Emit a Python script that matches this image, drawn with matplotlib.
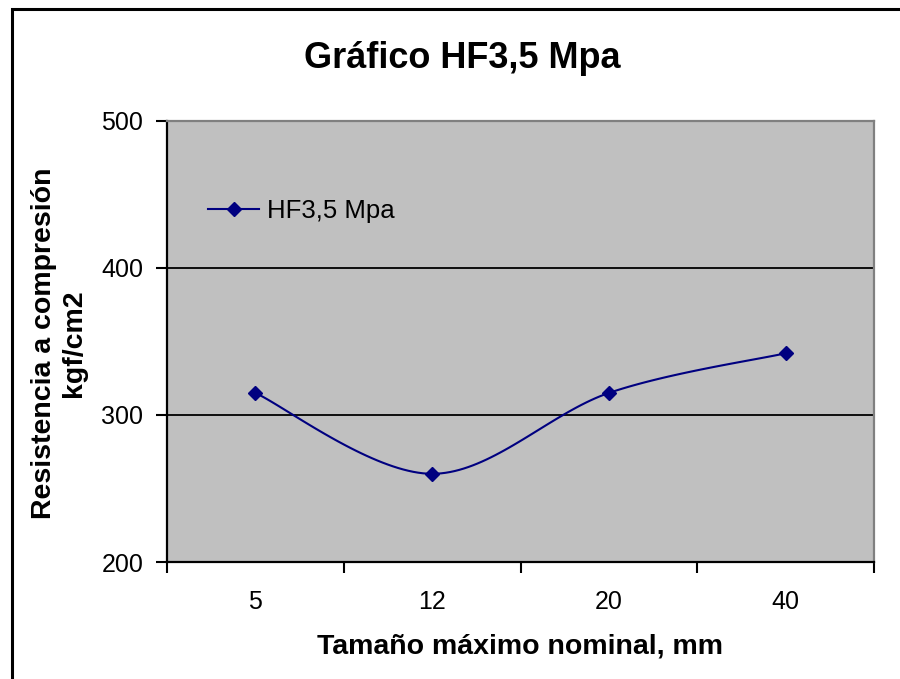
import numpy as np
import matplotlib
matplotlib.use("Agg")
import matplotlib.pyplot as plt
from matplotlib.patches import Rectangle

plt.rcParams["font.family"] = ["Liberation Sans", "DejaVu Sans"]

categories = ["5", "12", "20", "40"]
resistencia = [315, 260, 315, 342]
serie = "HF3,5 Mpa"
titulo = "Gráfico HF3,5 Mpa"
y_ticks = [200, 300, 400, 500]


def smooth_curve(xs, ys, n=40):
    # Catmull-Rom segments as cubic Bezier (same idea as spreadsheet "smoothed line")
    xs = np.asarray(xs, dtype=float)
    ys = np.asarray(ys, dtype=float)
    px, py = [], []
    m = len(xs)
    for i in range(m - 1):
        i0 = max(i - 1, 0)
        i3 = min(i + 2, m - 1)
        p0 = np.array([xs[i0], ys[i0]])
        p1 = np.array([xs[i], ys[i]])
        p2 = np.array([xs[i + 1], ys[i + 1]])
        p3 = np.array([xs[i3], ys[i3]])
        c1 = p1 + (p2 - p0) / 6.0
        c2 = p2 - (p3 - p1) / 6.0
        t = np.linspace(0, 1, n)[:, None]
        pts = ((1 - t) ** 3) * p1 + 3 * ((1 - t) ** 2) * t * c1 + 3 * (1 - t) * t ** 2 * c2 + t ** 3 * p2
        px.extend(pts[:, 0])
        py.extend(pts[:, 1])
    return np.array(px), np.array(py)


fig = plt.figure(figsize=(9, 6.79), dpi=100)
fig.patch.set_facecolor("white")

# chart frame (left and top edges visible, the rest runs off the canvas)
fig.patches.append(Rectangle((12 / 900, -0.1), 1.2, 1 - 9 / 679 + 0.1, transform=fig.transFigure,
                             fill=False, edgecolor="black", linewidth=2.2))

ax = fig.add_axes([167 / 900, 1 - 562 / 679, 707 / 900, 441 / 679])
ax.set_facecolor("#C0C0C0")

x = np.arange(len(categories))
sx, sy = smooth_curve(x, resistencia)
ax.plot(sx, sy, color="#000080", linewidth=1.5, zorder=3)
ax.plot(x, resistencia, linestyle="none", marker="D", markersize=7.5,
        color="#000080", zorder=4)

ax.set_xlim(-0.5, len(categories) - 0.5)
ax.set_ylim(200, 500)
ax.set_yticks(y_ticks)
ax.yaxis.grid(True, color="black", linewidth=1.3)
ax.set_axisbelow(True)

ax.set_xticks(x)
ax.set_xticklabels(categories)
ax.set_xticks(np.arange(-0.5, len(categories)), minor=True)
ax.tick_params(axis="x", which="major", length=0, pad=20, labelsize=18)
ax.tick_params(axis="x", which="minor", length=8, width=1.5, direction="out")
ax.tick_params(axis="y", length=8, width=1.5, direction="out", labelsize=18, pad=9)

for side in ["left", "bottom"]:
    ax.spines[side].set_color("black")
    ax.spines[side].set_linewidth(1.6)
for side in ["top", "right"]:
    ax.spines[side].set_color("#808080")
    ax.spines[side].set_linewidth(1.6)

# legend drawn inside the plot area
leg = ax.legend([plt.Line2D([], [], color="#000080", linewidth=1.5, marker="D", markersize=7.5)],
                [serie], loc="center left", bbox_to_anchor=(0.058, 0.795), frameon=False,
                fontsize=18.5, handlelength=2.0, handletextpad=0.3, borderaxespad=0,
                borderpad=0)

fig.text(462 / 900, 1 - 58 / 679, titulo, ha="center", va="center",
         fontsize=26, fontweight="bold")
fig.text(520 / 900, 1 - 646 / 679, "Tamaño máximo nominal, mm", ha="center", va="center",
         fontsize=20.5, fontweight="bold")
fig.text(59 / 900, 1 - 343 / 679, "Resistencia a compresión\nkgf/cm2", ha="center", va="center",
         rotation=90, fontsize=20.5, fontweight="bold", linespacing=1.2)

fig.savefig("out.png", dpi=100)
